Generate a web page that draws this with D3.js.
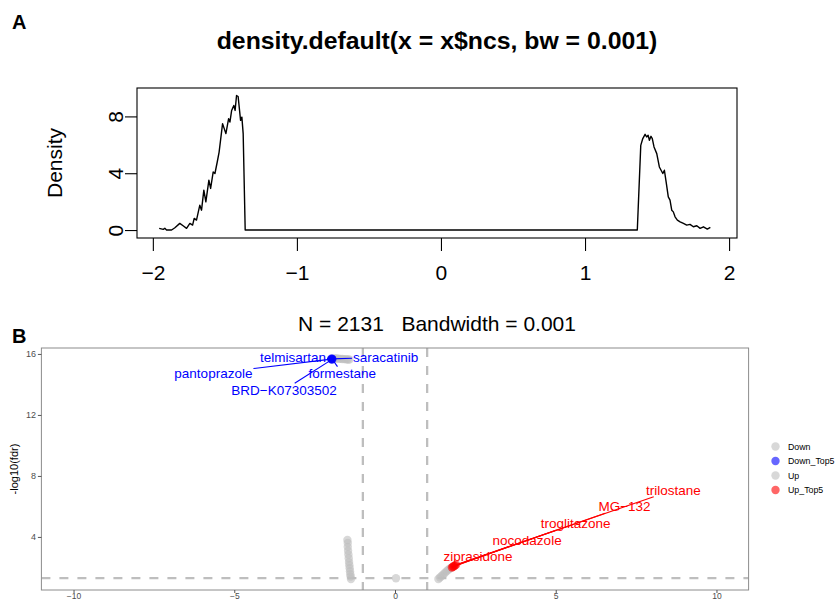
<!DOCTYPE html>
<html><head><meta charset="utf-8">
<script src="https://cdn.jsdelivr.net/npm/d3@7"></script>
<style>
body{margin:0;background:#fff}
svg{display:block}
text{font-family:"Liberation Sans",Arial,Helvetica,sans-serif}
</style>
</head><body>
<svg id="c" width="839" height="602"></svg>
<script>
// ---------------- Panel A data: density curve ----------------
const densityX = [
  -1.956,-1.928,-1.917,-1.905,-1.870,-1.847,-1.813,-1.790,-1.766,-1.743,-1.724,-1.713,
  -1.697,-1.674,-1.662,-1.646,-1.632,-1.611,-1.599,-1.581,-1.569,-1.553,-1.540,-1.516,
  -1.493,-1.474,-1.465,-1.453,-1.438,-1.429,-1.419,-1.408,-1.391,-1.382,-1.373,-1.359,
  1.363,1.387,1.401,1.417,1.428,1.438,1.447,1.458,1.467,1.479,1.498,1.516,1.528,1.540,
  1.551,1.563,1.578,1.590,1.602,1.613,1.625,1.641,1.660,1.683,1.706,1.729,1.752,1.776,
  1.799,1.822,1.849,1.870
];
const densityY = [
  0.12,0.05,0.12,0.00,0.00,0.16,0.47,0.30,0.12,0.47,0.35,0.82,
  0.70,1.75,1.40,2.81,1.99,3.51,2.93,4.09,3.98,4.79,5.49,7.49,
  6.79,7.84,7.60,8.42,8.77,8.42,9.47,9.40,7.72,7.95,6.79,0.00,
  0.00,5.96,6.44,6.74,6.55,6.67,6.32,6.60,6.44,5.85,5.38,4.44,4.21,3.98,
  4.21,3.39,2.34,2.11,1.40,1.28,0.93,0.70,0.58,0.47,0.35,0.40,0.23,0.30,
  0.12,0.23,0.07,0.19
];
const densityXTicks = [-2,-1,0,1,2];
const densityYTicks = [0,4,8];
const titleA = "density.default(x = x$ncs, bw = 0.001)";
const subA = "N = 2131   Bandwidth = 0.001";

// ---------------- Panel B data: volcano ----------------
const downX = [-1.37,-1.38,-1.39,-1.40,-1.41,-1.42,-1.43,-1.44,-1.45,-1.46,-1.47,-1.47,-1.48,
               -1.42,-1.47,-1.52,-1.58,-1.64,-1.70,-1.76,-1.82,-1.88];
const downY = [1.24,1.40,1.55,1.75,1.95,2.15,2.35,2.60,2.85,3.10,3.35,3.60,3.80,
               15.64,15.64,15.65,15.66,15.67,15.68,15.69,15.70,15.71];
const downTopX = [-1.97,-1.96,-1.98,-1.95,-1.97];
const downTopY = [15.70,15.68,15.66,15.65,15.63];
const downTopNames = ["telmisartan","saracatinib","pantoprazole","formestane","BRD\u2212K07303502"];
const downLabelX = [-3.17,-0.29,-5.65,-1.64,-3.45];
const downLabelY = [15.78,15.78,14.73,14.73,13.64];

const upX = [0.03,1.35,1.40,1.45,1.50,1.55,1.60,1.65,1.70,1.75];
const upY = [1.29,1.24,1.34,1.44,1.54,1.64,1.74,1.83,1.91,1.97];
const upTopX = [1.90,1.86,1.83,1.80,1.77];
const upTopY = [2.18,2.12,2.08,2.04,1.99];
const upTopNames = ["trilostane","MG\u2212132","troglitazone","nocodazole","ziprasidone"];
const upLabelX = [8.66,7.14,5.62,4.11,2.58];
const upLabelY = [7.08,5.99,4.90,3.80,2.71];

const volcanoXTicks = [-10,-5,0,5,10];
const volcanoYTicks = [4,8,12,16];
const fcCut = [-1,1];
const fdrCut = 1.301;
const legendNames = ["Down","Down_Top5","Up","Up_Top5"];
const legendColors = ["#BEBEBE","#0000FF","#BEBEBE","#FF0000"];

// ================= drawing =================
const svg = d3.select("#c");
svg.append("rect").attr("width",839).attr("height",602).attr("fill","#fff");
const fmt = d3.format("");

// ---------- Panel A ----------
const A = {l:137, r:737, t:88, b:238};
const xA = d3.scaleLinear().domain([-2.11, 2.055]).range([A.l, A.r]);
const yA = d3.scaleLinear().domain([-0.56, 10.0]).range([A.b, A.t]);

svg.append("text").attr("x",12).attr("y",29).attr("font-size",20).attr("font-weight","bold").text("A");
svg.append("text").attr("x",(A.l+A.r)/2).attr("y",49).attr("text-anchor","middle")
  .attr("font-size",24.8).attr("font-weight","bold").text(titleA);

const axA = svg.append("g").attr("transform",`translate(0,${A.b})`)
  .call(d3.axisBottom(xA).tickValues(densityXTicks).tickSize(13).tickFormat(fmt));
axA.select(".domain").remove();
axA.selectAll("line").attr("stroke","#000").attr("stroke-width",1.1);
axA.selectAll("text").attr("y",42).attr("dy",0).attr("font-size",21).attr("fill","#000")
  .style("font-family",'"Liberation Sans",Arial,sans-serif');

const ayA = svg.append("g").attr("transform",`translate(${A.l},0)`)
  .call(d3.axisLeft(yA).tickValues(densityYTicks).tickSize(12).tickFormat(fmt));
ayA.select(".domain").remove();
ayA.selectAll("line").attr("stroke","#000").attr("stroke-width",1.1);
ayA.selectAll("text").attr("x",0).attr("dy",0).attr("text-anchor","middle")
  .attr("transform","translate(-14,0) rotate(-90)").attr("font-size",21).attr("fill","#000")
  .style("font-family",'"Liberation Sans",Arial,sans-serif');

svg.append("text").attr("transform",`translate(62,${(A.t+A.b)/2}) rotate(-90)`)
  .attr("text-anchor","middle").attr("font-size",21).text("Density");

const lineA = d3.line().x((d,i)=>xA(densityX[i])).y((d,i)=>yA(densityY[i]));
svg.append("path").datum(densityX).attr("d",lineA).attr("fill","none")
  .attr("stroke","#000").attr("stroke-width",1.4).attr("stroke-linejoin","round");

svg.append("rect").attr("x",A.l).attr("y",A.t).attr("width",A.r-A.l).attr("height",A.b-A.t)
  .attr("fill","none").attr("stroke","#000").attr("stroke-width",1.1);

svg.append("text").attr("x",(A.l+A.r)/2).attr("y",331).attr("text-anchor","middle")
  .attr("font-size",21).attr("xml:space","preserve").style("white-space","pre").text(subA);

// ---------- Panel B ----------
const B = {l:41.4, r:748.6, t:348, b:590};
const xB = d3.scaleLinear().domain([-11, 11]).range([B.l, B.r]);
const yB = d3.scaleLinear().domain([0.52, 16.39]).range([B.b, B.t]);

svg.append("text").attr("x",12).attr("y",343).attr("font-size",20).attr("font-weight","bold").text("B");

svg.append("clipPath").attr("id","pc").append("rect")
  .attr("x",B.l).attr("y",B.t).attr("width",B.r-B.l).attr("height",B.b-B.t);
const gB = svg.append("g").attr("clip-path","url(#pc)");

// threshold lines
const dashCol = "#BEBEBE";
gB.selectAll("line.v").data(fcCut).join("line").attr("class","v")
  .attr("x1",d=>xB(d)).attr("x2",d=>xB(d)).attr("y1",B.t).attr("y2",B.b)
  .attr("stroke",dashCol).attr("stroke-width",2.3).attr("stroke-dasharray","9,9");
gB.append("line").attr("x1",B.l).attr("x2",B.r).attr("y1",yB(fdrCut)).attr("y2",yB(fdrCut))
  .attr("stroke",dashCol).attr("stroke-width",2.3).attr("stroke-dasharray","9,9");

// points
const R = 4.2;
function pts(xs, ys, col){
  gB.append("g").selectAll("circle").data(xs).join("circle")
    .attr("cx",(d,i)=>xB(xs[i])).attr("cy",(d,i)=>yB(ys[i])).attr("r",R)
    .attr("fill",col).attr("fill-opacity",0.6);
}
pts(downX, downY, "#BEBEBE");
pts(downTopX, downTopY, "#0000FF");
pts(upX, upY, "#BEBEBE");
pts(upTopX, upTopY, "#FF0000");

// labels with repel-like segments
const LFS = 13.5;
function labels(names, lx, ly, px, py, col){
  const g = svg.append("g");
  names.forEach((nm,i)=>{
    const cx = xB(lx[i]), cy = yB(ly[i]);
    const t = g.append("text").attr("x",cx).attr("y",cy+LFS*0.36).attr("text-anchor","middle")
      .attr("font-size",LFS).attr("fill",col).text(nm);
    const w = t.node().getComputedTextLength()/2 + 1, h = LFS*0.5;
    const ptx = xB(px[i]), pty = yB(py[i]);
    const dx = ptx-cx, dy = pty-cy;
    const s = Math.min(dx!==0 ? w/Math.abs(dx) : Infinity, dy!==0 ? h/Math.abs(dy) : Infinity);
    if (s < 1) {
      g.insert("line","text").attr("x1",cx+dx*s).attr("y1",cy+dy*s).attr("x2",ptx).attr("y2",pty)
        .attr("stroke",col).attr("stroke-width",1.1);
    }
  });
}
labels(downTopNames, downLabelX, downLabelY, downTopX, downTopY, "#0000FF");
labels(upTopNames, upLabelX, upLabelY, upTopX, upTopY, "#FF0000");

// border
svg.append("rect").attr("x",B.l).attr("y",B.t).attr("width",B.r-B.l).attr("height",B.b-B.t)
  .attr("fill","none").attr("stroke","#8C8C8C").attr("stroke-width",1);

// axes
const axB = svg.append("g").attr("transform",`translate(0,${B.b})`)
  .call(d3.axisBottom(xB).tickValues(volcanoXTicks).tickSize(3).tickPadding(1).tickFormat(fmt));
axB.select(".domain").remove();
axB.selectAll("line").attr("stroke","#555");
axB.selectAll("text").attr("font-size",8.5).attr("fill","#4D4D4D").attr("dy","0.62em")
  .style("font-family",'"Liberation Sans",Arial,sans-serif');

const ayB = svg.append("g").attr("transform",`translate(${B.l},0)`)
  .call(d3.axisLeft(yB).tickValues(volcanoYTicks).tickSize(3.5).tickPadding(2).tickFormat(fmt));
ayB.select(".domain").remove();
ayB.selectAll("line").attr("stroke","#555");
ayB.selectAll("text").attr("font-size",9).attr("fill","#4D4D4D").style("font-family",'"Liberation Sans",Arial,sans-serif');

svg.append("text").attr("transform",`translate(18,${(B.t+B.b)/2}) rotate(-90)`)
  .attr("text-anchor","middle").attr("font-size",11).text("-log10(fdr)");

// legend
const leg = svg.append("g");
legendNames.forEach((nm,i)=>{
  const y = 446.5 + i*14.5;
  leg.append("circle").attr("cx",775.5).attr("cy",y).attr("r",R).attr("fill",legendColors[i]).attr("fill-opacity",0.6);
  leg.append("text").attr("x",788).attr("y",y+3.2).attr("font-size",8.8).attr("fill","#000").text(nm);
});
</script>
</body></html>
